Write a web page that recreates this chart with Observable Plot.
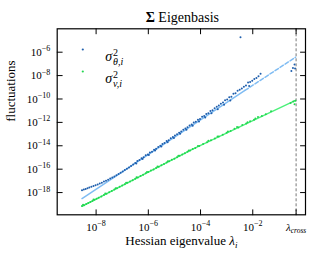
<!DOCTYPE html>
<html><head><meta charset="utf-8">
<script src="https://cdn.jsdelivr.net/npm/d3@7"></script>
<script src="https://cdn.jsdelivr.net/npm/@observablehq/plot@0.6"></script>
<style>html,body{margin:0;padding:0;background:#fff;}</style>
</head><body><div id="chart"></div>
<script>
// ---- texts ----
const titleText = "Σ Eigenbasis";
const xLabelText = "Hessian eigenvalue λ_i";
const yLabelText = "fluctuations";
const seriesNames = ["σ^2_θ,i", "σ^2_v,i"];
const crossLabel = "λ_cross";
// ---- ticks (exponents of 10) ----
const xTickExps = [-8, -6, -4, -2];
const yTickExps = [-6, -8, -10, -12, -14, -16, -18];
const logLambdaCross = -0.34;
const xDomainExp = [-9.49, 0.02];
const yDomainExp = [-19.9, -4.0];
// ---- sigma_theta^2 points (log10 lambda, log10 fluctuation) ----
const thetaLogLam = [-8.54,-8.47,-8.40,-8.33,-8.26,-8.18,-8.10,-8.02,-7.94,-7.86,-7.78,-7.70,-7.62,-7.54,-7.46,-7.38,-7.30,-7.22,-7.14,-7.06,-6.98,-6.90,-6.82,-6.74,-6.66,-6.58,
 -6.50,-6.42,-6.34,-6.26,-6.18,-6.10,-6.02,-5.94,-5.86,-5.78,-5.70,-5.62,-5.54,-5.46,-5.38,-5.30,-5.22,-5.14,-5.06,-4.98,-4.90,-4.82,-4.74,-4.66,-4.58,-4.50,-4.42,-4.34,-4.26,-4.18,-4.10,-4.02,
 -3.94,-3.86,-3.78,-3.70,-3.62,-3.54,-3.46,-3.38,-3.30,-3.22,-3.14,-3.06,-2.98,-2.90,-2.82,-2.74,-2.66,-2.58,-2.50,-2.42,-2.34,-2.26,-2.18,-2.14,-2.10,-2.02,-1.94,-1.86,-1.78,-1.70,
 -0.52,-0.46,-0.40,-0.38,-2.47,
 -6.46,-6.22,-5.98,-5.74,-5.50,-5.26,-5.02,-4.78,-4.54,-4.30,-4.06,-3.82,-3.58,-3.34,-3.10,-2.86];
const thetaLogFluct = [-17.80,-17.74,-17.69,-17.62,-17.56,-17.50,-17.44,-17.37,-17.30,-17.22,-17.15,-17.06,-16.98,-16.90,-16.80,-16.71,-16.62,-16.52,-16.42,-16.31,-16.20,-16.08,-15.96,-15.85,-15.73,-15.61,
 -15.47,-15.30,-15.22,-15.06,-14.98,-14.82,-14.74,-14.58,-14.50,-14.34,-14.25,-14.10,-14.00,-13.84,-13.76,-13.60,-13.52,-13.36,-13.26,-13.12,-13.02,-12.88,-12.78,-12.64,-12.52,-12.42,-12.26,-12.18,-12.02,-11.94,-11.78,-11.70,
 -11.52,-11.46,-11.28,-11.22,-11.02,-10.96,-10.80,-10.66,-10.55,-10.40,-10.30,-10.10,-10.05,-9.85,-9.80,-9.55,-9.50,-9.30,-9.20,-9.10,-8.95,-8.85,-8.60,-8.90,-8.55,-8.45,-8.30,-8.20,-8.05,-7.85,
 -7.60,-7.35,-7.05,-7.40,-4.72,
 -15.52,-15.12,-14.78,-14.40,-14.06,-13.70,-13.34,-12.98,-12.62,-12.28,-11.92,-11.58,-11.22,-10.88,-10.50,-10.12];
// ---- sigma_v^2 points ----
const vLogLam = [-8.54,-8.46,-8.38,-8.30,-8.22,-8.14,-8.06,-7.98,-7.90,-7.80,-7.70,-7.60,-7.50,-7.40,-7.30,-7.20,-7.10,-7.00,-6.90,-6.80,-6.70,-6.60,-6.50,-6.40,-6.30,-6.20,-6.10,-6.00,
 -5.90,-5.80,-5.70,-5.60,-5.50,-5.40,-5.30,-5.20,-5.10,-5.00,-4.90,-4.80,-4.70,-4.60,-4.50,-4.40,-4.30,-4.20,-4.05,-3.90,-3.75,-3.60,-3.45,-3.30,-3.15,-3.00,-2.85,-2.70,-2.55,-2.40,
 -2.25,-2.10,-1.95,-1.80,-1.65,-1.50,-1.30,-0.55,-0.45,-0.40,-0.37,
 -8.50,-8.10,-7.65,-7.25,-6.85,-6.45,-6.05,-5.65,-5.25,-4.85,-4.45,-4.10,-3.70,-3.35,-2.95,-2.60,-2.20,-1.90];
const vLogFluct = [-19.15,-19.08,-18.97,-18.90,-18.80,-18.72,-18.62,-18.52,-18.44,-18.33,-18.20,-18.10,-17.97,-17.87,-17.74,-17.63,-17.51,-17.40,-17.28,-17.17,-17.05,-16.94,-16.81,-16.71,-16.58,-16.48,-16.35,-16.25,
 -16.12,-16.02,-15.89,-15.79,-15.66,-15.56,-15.43,-15.33,-15.20,-15.10,-14.97,-14.86,-14.75,-14.63,-14.52,-14.40,-14.28,-14.18,-14.02,-13.85,-13.70,-13.52,-13.38,-13.20,-13.06,-12.88,-12.74,-12.55,-12.43,-12.22,
 -12.10,-11.90,-11.78,-11.55,-11.45,-11.30,-11.05,-10.35,-10.22,-10.45,-10.15,
 -19.05,-18.60,-18.08,-17.62,-17.16,-16.70,-16.24,-15.78,-15.32,-14.86,-14.40,-14.02,-13.58,-13.20,-12.78,-12.40,-11.98,-11.66];
// ---- prediction lines ----
const thetaFitLogLam = [-8.54, -2.30];
const thetaFitLogFluct = [-18.51, -9.27];
const thetaExtLogLam = [-2.30, -0.36];
const thetaExtLogFluct = [-9.27, -6.43];
const vFitLogLam = [-8.54, -4.26, -0.36];
const vFitLogFluct = [-19.17, -14.24, -10.12];
// ---- colours ----
const seriesColors = ["#1f5fad", "#22d650"];
const fitColors = ["#7fbcf3", "#4cf07a"];

const pts = (a, b) => a.map((l, i) => ({x: 10 ** l, y: 10 ** b[i]}));
const theta = pts(thetaLogLam, thetaLogFluct);
const vv = pts(vLogLam, vLogFluct);
const thetaFit = pts(thetaFitLogLam, thetaFitLogFluct);
const thetaExt = pts(thetaExtLogLam, thetaExtLogFluct);
const vFit = pts(vFitLogLam, vFitLogFluct);
const lambdaCross = 10 ** logLambdaCross;
const xTicks = xTickExps.map(e => 10 ** e);
const yTicks = yTickExps.map(e => 10 ** e);
const tickShape = {draw(ctx, l) { ctx.moveTo(0, 0); ctx.lineTo(0, -l); }};
const tk = {length: 5, anchor: "start", shape: tickShape, stroke: "black", strokeWidth: 1};
const fmt = d => "10^" + Math.round(Math.log10(d));

const legendMarks = seriesNames.flatMap((name, i) => [
  Plot.dot([name], {frameAnchor: "top-left", dx: 25.6, dy: 20.7 + 22 * i, r: 1.1, fill: seriesColors[i], stroke: "none"}),
  Plot.text([name], {frameAnchor: "top-left", dx: 48, dy: 22.5 + 21.8 * i, textAnchor: "start", fontSize: 14})
]);

const chart = Plot.plot({
  width: 315, height: 259,
  marginLeft: 56.7, marginRight: 10, marginTop: 28.3, marginBottom: 44.7,
  style: {fontFamily: "'Liberation Serif', 'Times New Roman', serif", background: "white", color: "black"},
  x: {type: "log", domain: xDomainExp.map(e => 10 ** e)},
  y: {type: "log", domain: yDomainExp.map(e => 10 ** e)},
  marks: [
    Plot.ruleX([lambdaCross], {stroke: "#555", strokeWidth: 0.8, strokeDasharray: "3,2"}),
    Plot.line(thetaFit, {x: "x", y: "y", stroke: fitColors[0], strokeWidth: 1.5}),
    Plot.line(thetaExt, {x: "x", y: "y", stroke: fitColors[0], strokeWidth: 1.5, strokeDasharray: "4,2"}),
    Plot.line(vFit, {x: "x", y: "y", stroke: fitColors[1], strokeWidth: 1.4}),
    Plot.dot(vv, {x: "x", y: "y", r: 1.0, fill: seriesColors[1], stroke: "none"}),
    Plot.dot(theta, {x: "x", y: "y", r: 1.0, fill: seriesColors[0], stroke: "none"}),
    Plot.vectorX([...xTicks, lambdaCross], {frameAnchor: "bottom", rotate: 0, ...tk}),
    Plot.vectorX([...xTicks, lambdaCross], {frameAnchor: "top", rotate: 180, ...tk}),
    Plot.vectorY(yTicks, {frameAnchor: "left", rotate: 90, ...tk}),
    Plot.vectorY(yTicks, {frameAnchor: "right", rotate: -90, ...tk}),
    Plot.axisX(xTicks, {tickSize: 0, tickPadding: 8, tickFormat: fmt, fontSize: 11, label: null}),
    Plot.axisY(yTicks, {tickSize: 0, tickPadding: 7, tickFormat: fmt, fontSize: 11, label: null}),
    Plot.text([crossLabel], {x: lambdaCross, frameAnchor: "bottom", lineAnchor: "top", dy: 8, fontSize: 11}),
    Plot.frame({stroke: "black", strokeWidth: 1.2}),
    Plot.text([titleText], {frameAnchor: "top", dy: -16.8, dx: 1, fontSize: 14}),
    Plot.text([xLabelText], {frameAnchor: "bottom", dy: 30.5, fontSize: 13}),
    Plot.text([yLabelText], {frameAnchor: "left", rotate: -90, dx: -46, fontSize: 13}),
    ...legendMarks
  ]
});
document.getElementById("chart").appendChild(chart);

// ---- rich text (super/subscripts) ----
const NS = "http://www.w3.org/2000/svg";
function rich(t, parts) {
  t.textContent = "";
  for (const p of parts) {
    const s = document.createElementNS(NS, "tspan");
    s.textContent = p.t;
    for (const k in (p.a || {})) s.setAttribute(k, p.a[k]);
    t.appendChild(s);
  }
}
chart.querySelectorAll("text").forEach(t => {
  const s = t.textContent;
  let m;
  if ((m = s.match(/^10\^(-?\d+)$/))) {
    rich(t, [{t: "10"}, {t: m[1].replace("-", "−"), a: {"font-size": "8px", dy: "-4.5"}}]);
  } else if (s === crossLabel) {
    rich(t, [{t: "λ", a: {"font-style": "italic"}}, {t: "cross", a: {"font-style": "italic", "font-size": "7.5px", dy: "2.5"}}]);
  } else if (s === xLabelText) {
    rich(t, [{t: "Hessian eigenvalue "}, {t: "λ", a: {"font-style": "italic"}}, {t: "i", a: {"font-style": "italic", "font-size": "9px", dy: "3"}}]);
  } else if (s === titleText) {
    rich(t, [{t: "Σ", a: {"font-weight": "bold"}}, {t: " Eigenbasis"}]);
  } else if ((m = s.match(/^σ\^2_(.+)$/))) {
    rich(t, [{t: "σ", a: {"font-style": "italic"}},
             {t: "2", a: {"font-size": "10px", dy: "-5.5", dx: "1"}},
             {t: m[1], a: {"font-size": "10px", "font-style": "italic", dx: "-5", dy: "9.5"}}]);
  }
});
</script>
</body></html>
